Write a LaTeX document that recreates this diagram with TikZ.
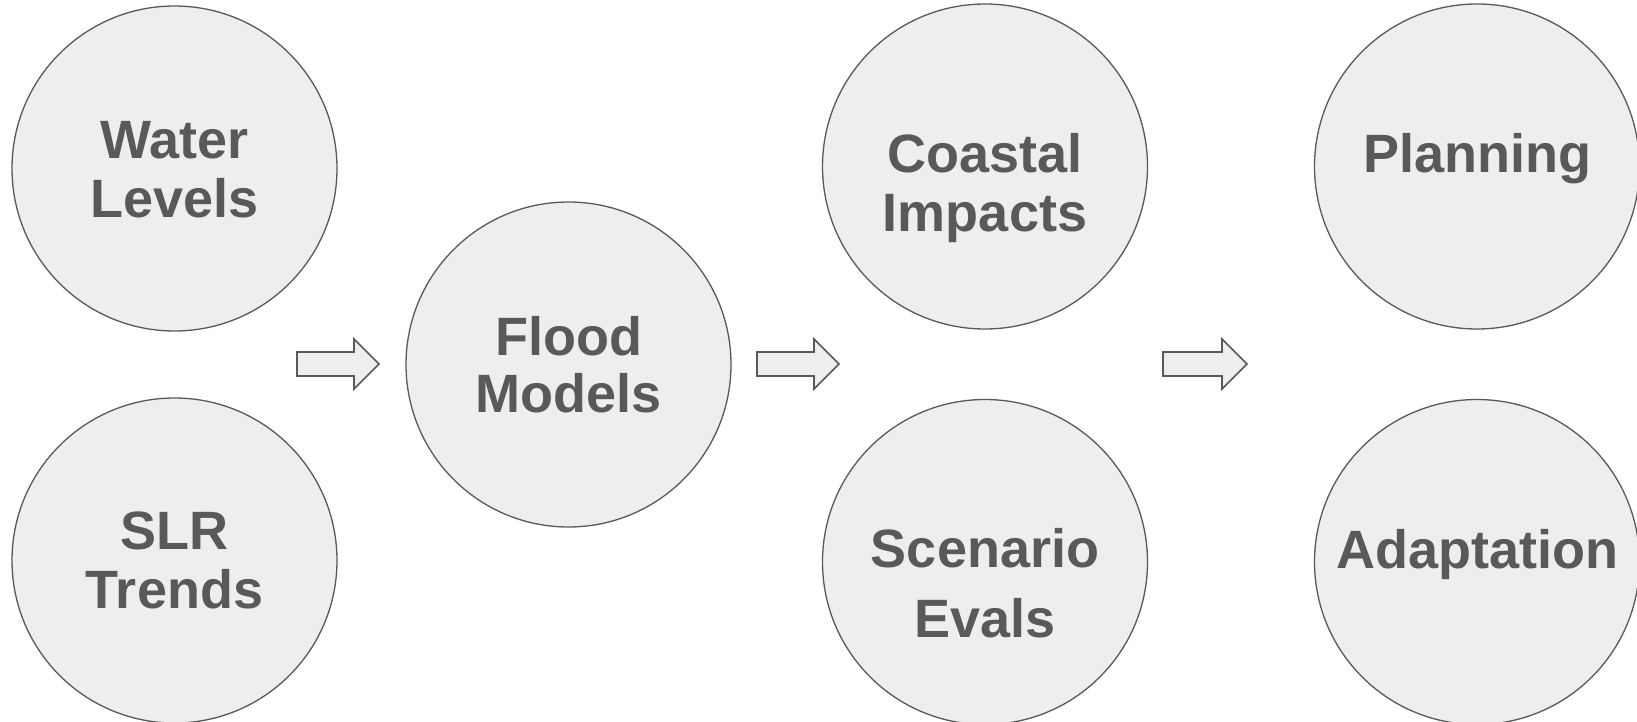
\documentclass[tikz,border=0pt]{standalone}
\usepackage{fontspec}
\setmainfont{Liberation Sans}
\definecolor{bubblefill}{HTML}{EEEEEE}
\definecolor{ink}{HTML}{595959}
\tikzset{
  bubble/.style={circle, draw=ink, fill=bubblefill, line width=1.3pt, minimum size=325pt, inner sep=0pt},
  word/.style={anchor=base, inner sep=0pt, text=ink, font=\fontsize{54}{58}\selectfont\bfseries},
  blockarrow/.style={draw=ink, fill=bubblefill, line width=1.6pt, line join=miter},
  pics/barrow/.style={code={
    \draw[blockarrow] (0,-12) -- (#1,-12) -- (#1,-25) -- (#1+25,0) -- (#1,25) -- (#1,12) -- (0,12) -- cycle;
  }}
}
\begin{document}
\begin{tikzpicture}[x=1pt,y=-1pt]
\clip (0,0) rectangle (1637,722);
\fill[white] (0,0) rectangle (1637,722);
% circles
\node[bubble] (wl) at (174.5,168.5) {};
\node[bubble] (slr) at (174.5,560.5) {};
\node[bubble] (fm) at (568.5,364.5) {};
\node[bubble] (ci) at (985,166.5) {};
\node[bubble] (se) at (985,562) {};
\node[bubble] (pl) at (1477,166.5) {};
\node[bubble] (ad) at (1477,562) {};
% texts
\node[word] (wl1) at (174.5,159) {Water};
\node[word] (wl2) at (174.5,217) {Levels};
\node[word] (slr1) at (174.5,549) {SLR};
\node[word] (slr2) at (174.5,608) {Trends};
\node[word] (fm1) at (568.5,355) {Flood};
\node[word] (fm2) at (568.5,412) {Models};
\node[word] (ci1) at (985,173) {Coastal};
\node[word] (ci2) at (985,231) {Impacts};
\node[word] (se1) at (985,567) {Scenario};
\node[word] (se2) at (985,637) {Evals};
\node[word] (pl1) at (1477.5,173) {Planning};
\node[word] (ad1) at (1477,568) {Adaptation};
% arrows
\coordinate (a1) at (297,364);
\coordinate (a2) at (757,364);
\coordinate (a3) at (1163,364);
\pic at (a1) {barrow=57};
\pic at (a2) {barrow=57};
\pic at (a3) {barrow=59};
\end{tikzpicture}
\end{document}
